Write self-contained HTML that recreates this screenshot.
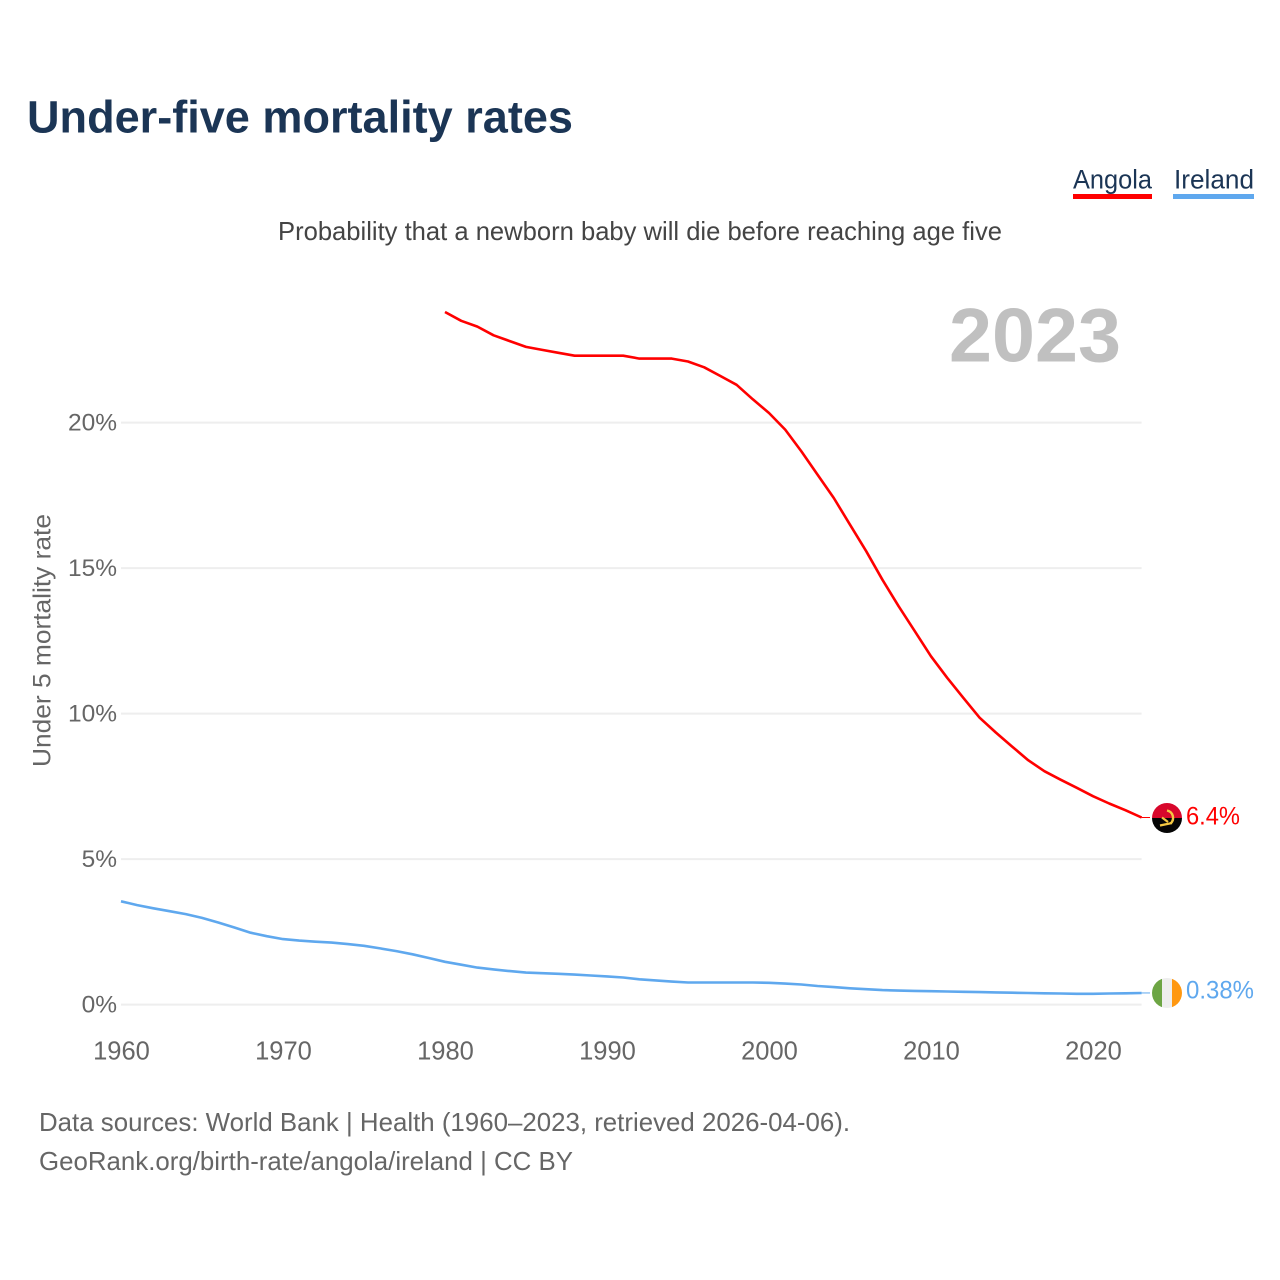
<!DOCTYPE html>
<html lang="en">
<head>
<meta charset="utf-8">
<title>Under-five mortality rates</title>
<style>
html,body{margin:0;padding:0;background:#fff}
svg{display:block}
text{font-family:"Liberation Sans",sans-serif}
</style>
</head>
<body>
<svg id="chart" xmlns="http://www.w3.org/2000/svg" width="1280" height="1280" viewBox="0 0 1280 1280">
  <rect width="1280" height="1280" fill="#fff"/>
  <text x="27" y="132.5" font-size="45" font-weight="700" fill="#1b3555" textLength="546" lengthAdjust="spacingAndGlyphs">Under-five mortality rates</text>

  <g>
    <g>
      <text x="1073" y="188.5" font-size="27" fill="#1b3555" textLength="79" lengthAdjust="spacingAndGlyphs">Angola</text>
      <rect x="1073" y="194" width="79" height="5" fill="#ff0000"/>
    </g>
    <g>
      <text x="1174" y="188.5" font-size="27" fill="#1b3555" textLength="80" lengthAdjust="spacingAndGlyphs">Ireland</text>
      <rect x="1173" y="194" width="81" height="5" fill="#5fa8ee"/>
    </g>
  </g>

  <text x="278" y="240" font-size="26" fill="#444444" textLength="724" lengthAdjust="spacingAndGlyphs">Probability that a newborn baby will die before reaching age five</text>
  <text x="949" y="361.5" font-size="76" font-weight="700" fill="#c0c0c0" textLength="172" lengthAdjust="spacingAndGlyphs">2023</text>
  <text transform="translate(50.5,767) rotate(-90)" font-size="25" fill="#666666" textLength="253" lengthAdjust="spacingAndGlyphs">Under 5 mortality rate</text>

  <g id="grid"></g>
  <g id="yticks"></g>
  <g id="xticks"></g>
  <g id="lines"></g>

  <g>
    <clipPath id="clip-ao"><circle cx="1167" cy="818" r="15"/></clipPath>
    <g clip-path="url(#clip-ao)">
      <rect x="1152" y="803" width="30" height="15" fill="#d8072c"/>
      <rect x="1152" y="818" width="30" height="15" fill="#050505"/>
      <path d="M1167 810.5a7.5 7.5 0 0 1 3.5 13" fill="none" stroke="#f5c842" stroke-width="2.4"/>
      <path d="M1160 825.5l12-2.5M1162 817.5l6 4.5" fill="none" stroke="#f5c842" stroke-width="2.2"/>
    </g>
    <text id="label-angola" x="1186" y="824.5" font-size="25" fill="#ff0000" textLength="54" lengthAdjust="spacingAndGlyphs">6.4%</text>
  </g>
  <g>
    <clipPath id="clip-ie"><circle cx="1167" cy="993" r="15"/></clipPath>
    <g clip-path="url(#clip-ie)">
      <rect x="1152" y="978" width="10" height="30" fill="#6da544"/>
      <rect x="1162" y="978" width="10" height="30" fill="#eeeeee"/>
      <rect x="1172" y="978" width="10" height="30" fill="#ff9811"/>
    </g>
    <text id="label-ireland" x="1186" y="998.5" font-size="25" fill="#5fa8ee" textLength="68" lengthAdjust="spacingAndGlyphs">0.38%</text>
  </g>

  <text x="39" y="1131" font-size="26" fill="#666666" textLength="811" lengthAdjust="spacingAndGlyphs">Data sources: World Bank | Health (1960–2023, retrieved 2026-04-06).</text>
  <text x="39" y="1170" font-size="26" fill="#666666" textLength="534" lengthAdjust="spacingAndGlyphs">GeoRank.org/birth-rate/angola/ireland | CC BY</text>
</svg>
<script>
const yTickValues = [0, 5, 10, 15, 20];
const xTickYears = [1960, 1970, 1980, 1990, 2000, 2010, 2020];
const irelandStartYear = 1960;
const angolaStartYear = 1980;
const irelandValues = [3.55,3.42,3.31,3.21,3.11,2.98,2.82,2.65,2.47,2.35,2.25,2.20,2.16,2.13,2.08,2.02,1.93,1.84,1.73,1.60,1.47,1.37,1.27,1.21,1.15,1.10,1.08,1.06,1.03,1.00,0.97,0.93,0.87,0.83,0.79,0.76,0.76,0.76,0.76,0.76,0.75,0.72,0.69,0.64,0.60,0.56,0.53,0.50,0.48,0.47,0.46,0.45,0.44,0.43,0.42,0.41,0.40,0.39,0.38,0.37,0.37,0.38,0.39,0.40];
const angolaValues = [23.8,23.5,23.3,23.0,22.8,22.6,22.5,22.4,22.3,22.3,22.3,22.3,22.2,22.2,22.2,22.1,21.9,21.6,21.3,20.8,20.33,19.76,19.01,18.21,17.41,16.49,15.58,14.6,13.69,12.83,11.97,11.23,10.54,9.86,9.35,8.87,8.4,8.02,7.73,7.45,7.16,6.91,6.68,6.43];

const SVG_NS = 'http://www.w3.org/2000/svg';
const xScale = year => 121 + (year - 1960) * 16.2;
const yScale = value => 1004.6 - value * 29.1;

const grid = document.getElementById('grid');
const yticks = document.getElementById('yticks');
const xticks = document.getElementById('xticks');
const lines = document.getElementById('lines');

yTickValues.forEach(v => {
  const line = document.createElementNS(SVG_NS, 'line');
  
  
  line.setAttribute('x1', xScale(1960));
  line.setAttribute('x2', xScale(2023));
  line.setAttribute('y1', yScale(v));
  line.setAttribute('y2', yScale(v));
  line.setAttribute('stroke', '#eeeeee');
  line.setAttribute('stroke-width', '2');
  grid.appendChild(line);

  const label = document.createElementNS(SVG_NS, 'text');
  
  
  label.setAttribute('x', 117);
  label.setAttribute('y', yScale(v) + 8);
  label.setAttribute('text-anchor', 'end');
  label.setAttribute('font-size', '24.5');
  label.setAttribute('fill', '#666666');
  label.textContent = v + '%';
  yticks.appendChild(label);
});

xTickYears.forEach(year => {
  const label = document.createElementNS(SVG_NS, 'text');
  
  
  label.setAttribute('x', xScale(year) + 0.5);
  label.setAttribute('y', 1059.5);
  label.setAttribute('text-anchor', 'middle');
  label.setAttribute('font-size', '25.5');
  label.setAttribute('fill', '#666666');
  label.textContent = year;
  xticks.appendChild(label);
});

function drawSeries(values, startYear, color, name, flagX) {
  const pts = values.map((v, i) => xScale(startYear + i).toFixed(1) + ',' + yScale(v).toFixed(1));
  const path = document.createElementNS(SVG_NS, 'polyline');
  
  
  path.setAttribute('points', pts.join(' '));
  path.setAttribute('fill', 'none');
  path.setAttribute('stroke', color);
  path.setAttribute('stroke-width', '2.6');
  path.setAttribute('stroke-linejoin', 'round');
  lines.appendChild(path);

  const last = values[values.length - 1];
  const lastYear = startYear + values.length - 1;
  const leader = document.createElementNS(SVG_NS, 'line');
  
  
  leader.setAttribute('x1', xScale(lastYear));
  leader.setAttribute('x2', flagX);
  leader.setAttribute('y1', yScale(last));
  leader.setAttribute('y2', yScale(last));
  leader.setAttribute('stroke', color);
  leader.setAttribute('stroke-width', '1');
  lines.appendChild(leader);
}

drawSeries(irelandValues, irelandStartYear, '#5fa8ee', 'line-ireland', 1150);
drawSeries(angolaValues, angolaStartYear, '#ff0000', 'line-angola', 1150);
</script>
</body>
</html>
